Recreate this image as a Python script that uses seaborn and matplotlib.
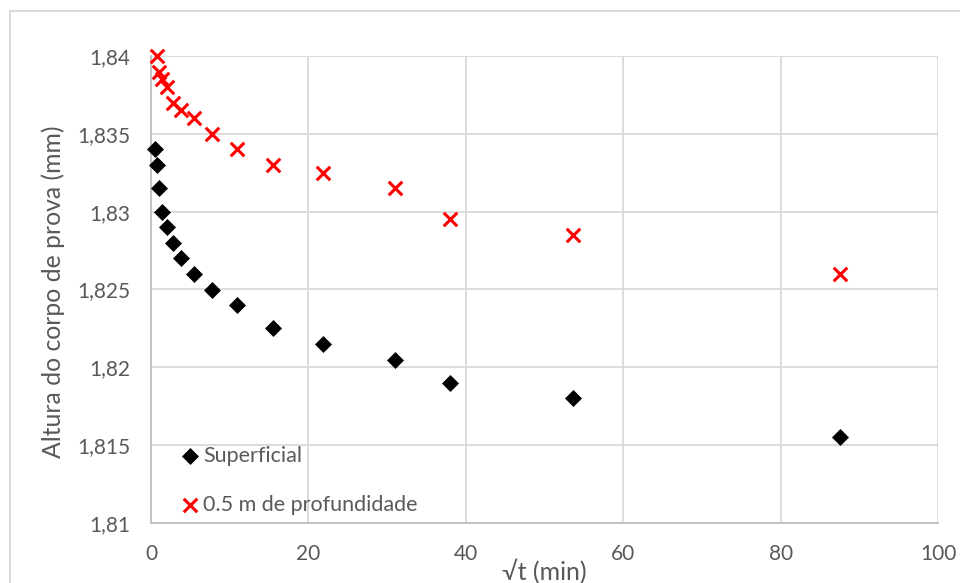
import matplotlib
matplotlib.use("Agg")
import matplotlib.pyplot as plt
import seaborn as sns
import pandas as pd
from matplotlib.ticker import FuncFormatter, MultipleLocator
from matplotlib.patches import Rectangle

# ---- data ----
x_superficial = [0.5, 0.71, 1.0, 1.41, 2.0, 2.83, 3.87, 5.48, 7.75, 10.95,
                 15.49, 21.91, 30.98, 37.95, 53.67, 87.6]
y_superficial = [1.834, 1.833, 1.8315, 1.830, 1.829, 1.828, 1.827, 1.826, 1.825,
                 1.824, 1.8225, 1.8215, 1.8205, 1.819, 1.818, 1.8155]
x_prof = [0.71, 1.0, 1.41, 2.0, 2.83, 3.87, 5.48, 7.75, 10.95,
          15.49, 21.91, 30.98, 37.95, 53.67, 87.6]
y_prof = [1.840, 1.839, 1.8385, 1.838, 1.837, 1.8365, 1.836, 1.835, 1.834,
          1.833, 1.8325, 1.8315, 1.8295, 1.8285, 1.826]
label_sup = "Superficial"
label_prof = "0.5 m de profundidade"
xlabel = "√t (min)"
ylabel = "Altura do corpo de prova (mm)"

df_sup = pd.DataFrame({"x": x_superficial, "y": y_superficial})
df_prof = pd.DataFrame({"x": x_prof, "y": y_prof})

sns.set_theme(style="white")
plt.rcParams['font.family'] = ['Lato', 'DejaVu Sans']

W, H = 960, 583
fig = plt.figure(figsize=(W / 100, H / 100), dpi=100)
ax = fig.add_axes([151 / W, 1 - 523 / H, (938 - 151) / W, (523 - 56) / H])

# chart border
fig.patches.append(Rectangle((10 / W, -0.05), 1.0, 1 - 11 / H + 0.05,
                             transform=fig.transFigure, fill=False,
                             edgecolor="#d9d9d9", linewidth=1.4, zorder=0))

sns.scatterplot(data=df_sup, x="x", y="y", ax=ax, marker="D", s=75,
                color="black", edgecolor="black", linewidth=0, label=label_sup,
                zorder=3, clip_on=False)
sns.scatterplot(data=df_prof, x="x", y="y", ax=ax, marker="x", s=95,
                color="#ff0000", linewidth=2.2, label=label_prof,
                zorder=3, clip_on=False)

ax.set_xlim(0, 100)
ax.set_ylim(1.81, 1.84)
ax.xaxis.set_major_locator(MultipleLocator(20))
ax.yaxis.set_major_locator(MultipleLocator(0.005))
ax.yaxis.set_major_formatter(FuncFormatter(
    lambda v, p: (f"{v:.3f}".rstrip('0').rstrip('.')).replace('.', ',')))

ax.grid(True, color="#d9d9d9", linewidth=1.3)
ax.set_axisbelow(True)
for side in ["top", "right"]:
    ax.spines[side].set_visible(False)
ax.spines["left"].set_color("#bfbfbf")
ax.spines["bottom"].set_color("#bfbfbf")
ax.spines["left"].set_linewidth(1.3)
ax.spines["bottom"].set_linewidth(1.3)

ax.tick_params(axis="both", length=0, labelsize=15, labelcolor="#595959")
ax.tick_params(axis="y", pad=15)
ax.tick_params(axis="x", pad=15)

ax.set_xlabel(xlabel, fontsize=18, color="#595959")
ax.set_ylabel(ylabel, fontsize=17.8, color="#595959")
ax.xaxis.set_label_coords(0.5, -(572 - 523) / 467)
ax.xaxis.label.set_va("center")
ax.yaxis.set_label_coords((53 - 151) / 787, (523 - 292) / 467)
ax.yaxis.label.set_va("center")

leg = ax.legend(loc="upper left", bbox_to_anchor=(181.5 / W, 1 - 446 / H),
                bbox_transform=fig.transFigure, frameon=False, fontsize=15.5,
                labelspacing=1.35, handlelength=0.8, handletextpad=0.2,
                borderpad=0, borderaxespad=0)
for t in leg.get_texts():
    t.set_color("#595959")

fig.savefig("out.png", dpi=100)
